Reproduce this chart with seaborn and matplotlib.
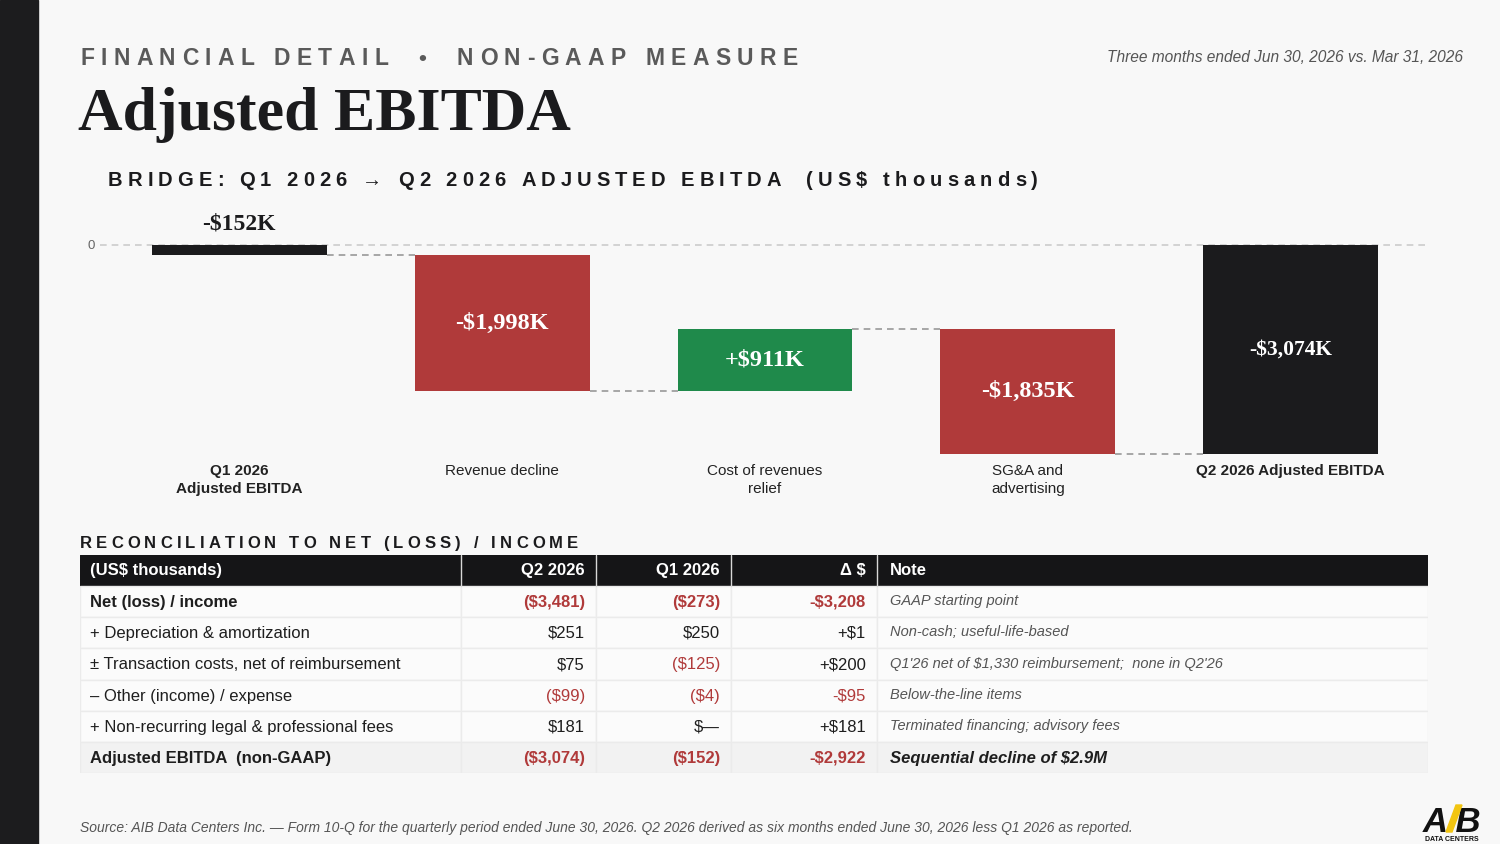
import numpy as np
import pandas as pd
import matplotlib
matplotlib.use("Agg")
import matplotlib.pyplot as plt
import seaborn as sns
from matplotlib.patches import Rectangle, Polygon

# ---------------- data ----------------
bridge_labels = ["Q1 2026\nAdjusted EBITDA", "Revenue decline", "Cost of revenues\nrelief",
                 "SG&A and\nadvertising", "Q2 2026 Adjusted EBITDA"]
bridge_kind = ["total", "step", "step", "step", "total"]
bridge_values = [-152, -1998, 911, -1835, -3074]

row_labels = ["Net (loss) / income", "+ Depreciation & amortization",
              "± Transaction costs, net of reimbursement", "– Other (income) / expense",
              "+ Non-recurring legal & professional fees", "Adjusted EBITDA  (non-GAAP)"]
q2_vals = [-3481, 251, 75, -99, 181, -3074]
q1_vals = [-273, 250, -125, -4, None, -152]
notes = ["GAAP starting point", "Non-cash; useful-life-based",
         "Q1'26 net of $1,330 reimbursement;  none in Q2'26", "Below-the-line items",
         "Terminated financing; advisory fees", "Sequential decline of $2.9M"]
bold_rows = [0, 5]
col_headers = ["(US$ thousands)", "Q2 2026", "Q1 2026", "Δ $", "Note"]

# ---------------- style ----------------
W, H = 1500, 844
BG = "#f8f8f8"
DARK = "#1b1b1d"
RED = "#b03a3a"
GREEN = "#1f8a4b"
GRAY = "#5a5a5a"
SANS = ["Liberation Sans", "DejaVu Sans"]
SERIF = ["Liberation Serif", "DejaVu Serif"]

sns.set_theme(style="white")
plt.rcParams["font.family"] = SANS
plt.rcParams["axes.facecolor"] = BG
plt.rcParams["figure.facecolor"] = BG

fig = plt.figure(figsize=(W / 100, H / 100), dpi=100)
renderer = fig.canvas.get_renderer()


def fx(x):
    return x / W


def fy(y):
    return 1 - y / H


def tracked(x0, x1, y, s, size, **kw):
    """Draw letter-spaced text so that it spans x0..x1 (pixels), baseline y."""
    px_size = size * 100 / 72
    items = []
    for ch in s:
        if ch == " ":
            items.append((None, px_size * 0.28))
        else:
            t = fig.text(0, 0, ch, fontsize=size, va="baseline", ha="left", **kw)
            items.append((t, t.get_window_extent(renderer).width))
    natural = sum(w for _, w in items)
    gaps = max(len(items) - 1, 1)
    track = (x1 - x0 - natural) / gaps
    cur = x0
    for t, w in items:
        if t is not None:
            t.set_position((fx(cur), fy(y)))
        cur += w + track


# left band
fig.patches.append(Rectangle((0, 0), fx(38), 1, transform=fig.transFigure,
                             color="#1c1c1e", zorder=0))

# header texts
tracked(80, 388, 65, "FINANCIAL DETAIL", 16.5, weight="bold", color=GRAY)
fig.text(fx(422), fy(65), "•", fontsize=16, weight="bold", color=GRAY, ha="center", va="baseline")
tracked(457, 798, 65, "NON-GAAP MEASURE", 16.5, weight="bold", color=GRAY)
fig.text(fx(1463), fy(62), "Three months ended Jun 30, 2026 vs. Mar 31, 2026", fontsize=11.2,
         style="italic", color="#555555", ha="right", va="baseline")
fig.text(fx(78), fy(130), "Adjusted EBITDA", fontsize=44.5, weight="bold", family=SERIF,
         color=DARK, ha="left", va="baseline")
tracked(108, 781, 186, "BRIDGE: Q1 2026 → Q2 2026 ADJUSTED EBITDA", 14.5, weight="bold", color=DARK)
tracked(806, 1038, 186, "(US$ thousands)", 14.5, weight="bold", color=DARK)

# ---------------- waterfall ----------------
run = 0.0
bottoms, heights, levels = [], [], []
for kind, v in zip(bridge_kind, bridge_values):
    if kind == "total":
        bottoms.append(0.0)
        heights.append(v)
        run = v
    else:
        bottoms.append(run)
        heights.append(v)
        run = run + v
    levels.append(run)

colors = []
for kind, v in zip(bridge_kind, bridge_values):
    colors.append(DARK if kind == "total" else (GREEN if v > 0 else RED))

df = pd.DataFrame({"label": bridge_labels, "height": heights})
ax = fig.add_axes([fx(100), fy(458), fx(1430) - fx(100), fy(205) - fy(458)])
bw = 0.665
sns.barplot(data=df, x="label", y="height", order=bridge_labels, bottom=bottoms,
            width=bw, errorbar=None, saturation=1, color=DARK, ax=ax, zorder=3,
            linewidth=0)
for p, c in zip(ax.patches, colors):
    p.set_facecolor(c)

ax.set_xlim(-0.53, 4.53)
ax.set_ylim(-3133, 588)
ax.axhline(0, color="#cccccc", lw=1.2, ls=(0, (4, 3)), zorder=1)
for i in range(len(levels) - 1):
    ax.plot([i + bw / 2, i + 1 - bw / 2], [levels[i], levels[i]], color="#999999",
            lw=1.2, ls=(0, (4, 3)), zorder=2)

for i, (b, h, kind) in enumerate(zip(bottoms, heights, bridge_kind)):
    v = bridge_values[i]
    txt = ("+" if v > 0 else "-") + "${:,.0f}K".format(abs(v))
    if i == 0:
        ax.text(i, 150, txt, ha="center", va="bottom", fontsize=17, weight="bold",
                family=SERIF, color=DARK, zorder=5)
    else:
        ax.text(i, b + h / 2, txt, ha="center", va="center",
                fontsize=15.5 if kind == "total" else 17.5,
                weight="bold", family=SERIF, color="white", zorder=5)

sns.despine(ax=ax, left=True, bottom=True)
ax.set_xlabel("")
ax.set_ylabel("")
ax.set_yticks([0])
ax.set_yticklabels(["0"], fontsize=9.5, color="#666666")
ax.tick_params(axis="y", length=0, pad=4)
ax.tick_params(axis="x", length=0, pad=4)
ax.set_xticks(range(len(bridge_labels)))
ax.set_xticklabels(bridge_labels, fontsize=11, color="#222222", linespacing=1.4)
for lbl, kind in zip(ax.get_xticklabels(), bridge_kind):
    if kind == "total":
        lbl.set_fontweight("bold")
ax.grid(False)

# ---------------- table ----------------
tracked(80, 578, 548, "RECONCILIATION TO NET (LOSS) / INCOME", 12, weight="bold", color=DARK)

col_edges = [80, 461, 596, 731, 877, 1428]
row_edges = [555, 586, 617, 648, 680, 711, 742, 773]
tax = fig.add_axes([fx(80), fy(773), fx(1428) - fx(80), fy(555) - fy(773)])
tax.set_xlim(80, 1428)
tax.set_ylim(773, 555)
tax.axis("off")

# header
tax.add_patch(Rectangle((80, 555), 1348, 31, color="#151517", zorder=1))
for xe in col_edges[1:-1]:
    tax.plot([xe, xe], [555, 586], color="#d8d8d8", lw=1, zorder=2)
hx = [(90, "left"), (585, "right"), (720, "right"), (866, "right"), (890, "left")]
for (x, ha), t in zip(hx, col_headers):
    tax.text(x, 571, t, ha=ha, va="center", fontsize=12, weight="bold", color="white", zorder=3)


def fmt_val(v):
    if v is None:
        return "$—"
    if v < 0:
        return "(${:,.0f})".format(abs(v))
    return "${:,.0f}".format(v)


def fmt_delta(v):
    return ("+" if v >= 0 else "-") + "${:,.0f}".format(abs(v))


for r in range(len(row_labels)):
    y0, y1 = row_edges[r + 1], row_edges[r + 2]
    yc = (y0 + y1) / 2 + 1
    fill = "#f2f2f2" if r == len(row_labels) - 1 else "#fbfbfb"
    for c in range(len(col_edges) - 1):
        tax.add_patch(Rectangle((col_edges[c], y0), col_edges[c + 1] - col_edges[c], y1 - y0,
                                facecolor=fill, edgecolor="#ebebeb", lw=1, zorder=1))
    bold = r in bold_rows
    wt = "bold" if bold else "normal"
    tax.text(90, yc, row_labels[r], ha="left", va="center", fontsize=12, weight=wt,
             color="#1e1e1e", zorder=3)
    q2, q1 = q2_vals[r], q1_vals[r]
    for x, v in [(585, q2), (720, q1)]:
        col = RED if (v is not None and v < 0) else "#1e1e1e"
        tax.text(x, yc, fmt_val(v), ha="right", va="center", fontsize=12, weight=wt,
                 color=col, zorder=3)
    d = q2 - (q1 if q1 is not None else 0)
    tax.text(866, yc, fmt_delta(d), ha="right", va="center", fontsize=12, weight=wt,
             color=RED if d < 0 else "#1e1e1e", zorder=3)
    if r == len(row_labels) - 1:
        tax.text(890, yc, notes[r], ha="left", va="center", fontsize=12, weight="bold",
                 style="italic", color="#1e1e1e", zorder=3)
    else:
        tax.text(890, yc - 1, notes[r], ha="left", va="center", fontsize=10.5,
                 style="italic", color="#555555", zorder=3)

# footnote
fig.text(fx(80), fy(832), "Source: AIB Data Centers Inc. — Form 10-Q for the quarterly period ended "
         "June 30, 2026. Q2 2026 derived as six months ended June 30, 2026 less Q1 2026 as reported.",
         fontsize=10, style="italic", color="#555555", ha="left", va="baseline")

# logo
fig.text(fx(1452), fy(832), "A B", fontsize=25, weight="bold", style="italic", color="#111111",
         ha="center", va="baseline")
fig.patches.append(Polygon([[fx(1446), fy(832)], [fx(1452), fy(832)], [fx(1462), fy(805)],
                            [fx(1456), fy(805)]], closed=True, transform=fig.transFigure,
                           color="#f2c511", zorder=5))
fig.text(fx(1452), fy(841), "DATA CENTERS", fontsize=5, weight="bold", color="#111111",
         ha="center", va="baseline")

fig.savefig("out.png", dpi=100, facecolor=BG)
